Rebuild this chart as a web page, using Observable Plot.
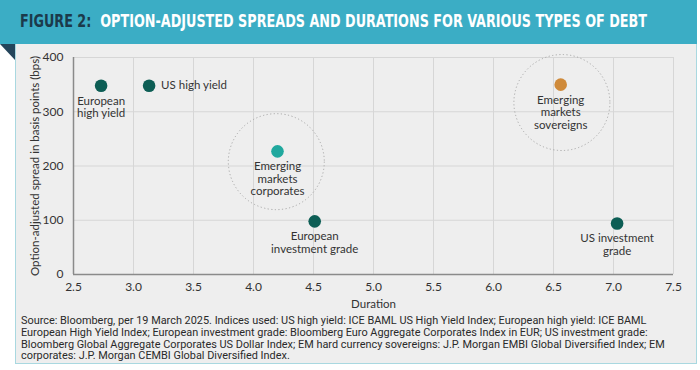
<!DOCTYPE html>
<html>
<head>
<meta charset="utf-8">
<script src="https://cdn.jsdelivr.net/npm/d3@7"></script>
<script src="https://cdn.jsdelivr.net/npm/@observablehq/plot@0.6"></script>
<style>
  html, body { margin: 0; padding: 0; background: #ffffff; }
  #wrap { position: relative; width: 700px; height: 370px; overflow: hidden; }
  #header { position: absolute; left: 0; top: 0; width: 697px; height: 44px; background: #3badc5; }
  #title { position: absolute; left: 20px; top: 11px; font-family: "DejaVu Sans Condensed", "DejaVu Sans", sans-serif; font-stretch: condensed; font-weight: bold; font-size: 17px; color: #ffffff; white-space: nowrap; transform-origin: 0 50%; }
  #title .fig { color: #1b3a4b; }
  #fold { position: absolute; left: 0; top: 44px; width: 0; height: 0; border-top: 16px solid #24455b; border-left: 15px solid transparent; }
  #panel { position: absolute; left: 15px; top: 44px; width: 680px; height: 319px; background: #eeeeee; border: 1px solid #a9d8e0; border-top: none; }
  #chart { position: absolute; left: 0; top: 44px; }
  #caption { position: absolute; left: 21px; top: 315px; width: 670px; font-family: Roboto, "Noto Sans", sans-serif; font-size: 10.9px; line-height: 11.8px; color: #2a2a2a; white-space: nowrap; }
  #caption div { height: 11.8px; }
</style>
</head>
<body>
<div id="wrap">
  <div id="header"><div id="title"><span class="fig">FIGURE 2:</span>&nbsp; OPTION-ADJUSTED SPREADS AND DURATIONS FOR VARIOUS TYPES OF DEBT</div></div>
  <div id="fold"></div>
  <div id="panel"></div>
  <div id="chart"></div>
  <div id="caption"></div>
</div>
<script>
// Data
const names = ["European\nhigh yield", "US high yield", "Emerging\nmarkets\ncorporates", "European\ninvestment grade", "Emerging\nmarkets\nsovereigns", "US investment\ngrade"];
const duration = [2.73, 3.13, 4.2, 4.51, 6.56, 7.03];
const spread = [348, 348, 227, 98, 350, 94];
const group = ["dm", "dm", "emc", "dm", "ems", "dm"];
const labelPos = ["below", "right", "below", "below", "below", "below"];
// highlight rings (centres in data units)
const ringDuration = [4.19, 6.57];
const ringSpread = [208, 317];
const xTicks = [2.5, 3.0, 3.5, 4.0, 4.5, 5.0, 5.5, 6.0, 6.5, 7.0, 7.5];
const yTicks = [0, 100, 200, 300, 400];
const captionLines = [
  "Source: Bloomberg, per 19 March 2025. Indices used: US high yield: ICE BAML US High Yield Index; European high yield: ICE BAML",
  "European High Yield Index; European investment grade: Bloomberg Euro Aggregate Corporates Index in EUR; US investment grade:",
  "Bloomberg Global Aggregate Corporates US Dollar Index; EM hard currency sovereigns: J.P. Morgan EMBI Global Diversified Index; EM",
  "corporates: J.P. Morgan CEMBI Global Diversified Index."
];

const pts = names.map((n, i) => ({name: n, x: duration[i], y: spread[i], g: group[i], pos: labelPos[i]}));
const rings = ringDuration.map((d, i) => ({x: d, y: ringSpread[i]}));
const colors = {dm: "#0d5e55", emc: "#20a89e", ems: "#cf8a3a"};

const font = "Lato, 'Open Sans', sans-serif";
const chart = Plot.plot({
  width: 700,
  height: 270,
  marginTop: 13,
  marginBottom: 40,
  marginLeft: 73,
  marginRight: 27,
  style: {background: "transparent", fontFamily: font, fontSize: "12px", color: "#333"},
  x: {domain: [2.5, 7.5], ticks: xTicks, tickFormat: d3.format(".1f"), label: null},
  y: {domain: [0, 400], ticks: yTicks, label: null},
  marks: [
    Plot.gridX(xTicks, {stroke: "#d6d6d6", strokeOpacity: 1, strokeWidth: 1}),
    Plot.gridY(yTicks, {stroke: "#d6d6d6", strokeOpacity: 1, strokeWidth: 1}),
    Plot.axisX({ticks: xTicks, tickSize: 0, tickPadding: 8, tickFormat: d3.format(".1f"), fontSize: 12, fill: "#333", label: null}),
    Plot.axisY({ticks: yTicks, tickSize: 0, tickPadding: 10, fontSize: 12, fill: "#333", label: null}),
    Plot.ruleY([0], {stroke: "#8a8a8a", strokeWidth: 1.5}),
    Plot.ruleX([2.5], {stroke: "#8a8a8a", strokeWidth: 1.5}),
    Plot.dot(rings, {x: "x", y: "y", r: 48, fill: "none", stroke: "#a8a8a8", strokeWidth: 1, strokeDasharray: "1.2,2.4"}),
    Plot.dot(pts, {x: "x", y: "y", r: 6.3, fill: d => colors[d.g], stroke: "none"}),
    Plot.text(pts.filter(d => d.pos === "below"), {x: "x", y: "y", text: "name", dy: 10, lineAnchor: "top", textAnchor: "middle", fontSize: 11.5, fill: "#333", lineHeight: 1.09}),
    Plot.text(pts.filter(d => d.pos === "right"), {x: "x", y: "y", text: "name", dx: 12, textAnchor: "start", fontSize: 11.5, fill: "#333"}),
    Plot.text(["Duration"], {frameAnchor: "bottom", dy: 33, fontSize: 11.5, fill: "#333"}),
    Plot.text(["Option-adjusted spread in basis points (bps)"], {frameAnchor: "left", dx: -38, rotate: -90, textAnchor: "middle", fontSize: 11.5, fill: "#333"})
  ]
});
document.getElementById("chart").appendChild(chart);

const cap = document.getElementById("caption");
captionLines.forEach(l => { const d = document.createElement("div"); d.textContent = l; cap.appendChild(d); });

// fit title to its width in the reference
const t = document.getElementById("title");
const w = t.getBoundingClientRect().width;
t.style.transform = `scaleX(${627 / w})`;
</script>
</body>
</html>
